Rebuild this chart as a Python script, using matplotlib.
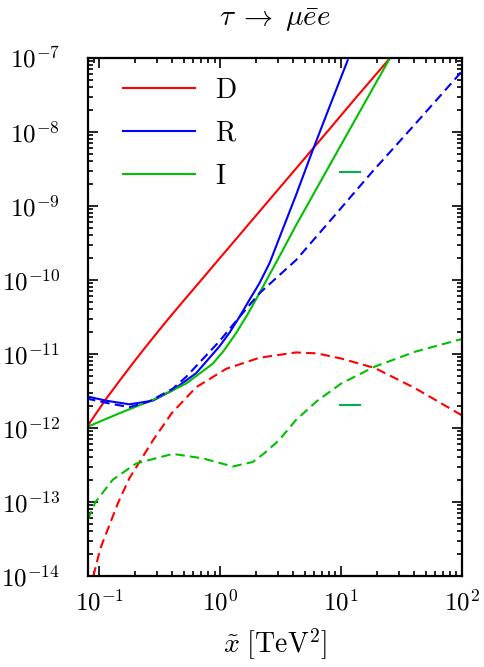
import numpy as np
import matplotlib
matplotlib.use('Agg')
import matplotlib.pyplot as plt

plt.rcParams['font.family'] = 'serif'
plt.rcParams['font.serif'] = ['cmr10']
plt.rcParams['mathtext.fontset'] = 'cm'
plt.rcParams['axes.formatter.use_mathtext'] = True

# values (x in TeV^2)
x_D = [0.0782, 0.1148, 0.15, 0.1995, 0.27, 0.3715, 0.5, 0.692, 1.259, 2.29, 4.17, 7.5, 13.5, 24.5]
y_D = [1.0e-12, 2.5e-12, 4.5e-12, 8.3e-12, 1.55e-11, 2.95e-11, 5.25e-11, 9.8e-11, 3.1e-10,
       9.8e-10, 3.1e-9, 9.6e-9, 3.0e-8, 9.3e-8]

x_R = [0.0782, 0.1143, 0.178, 0.278, 0.406, 0.634, 0.986, 1.2, 1.445, 1.75, 2.113, 2.57, 3.09,
       4.25, 5.73, 8.04, 11.35]
y_R = [2.69e-12, 2.34e-12, 2.09e-12, 2.34e-12, 3.24e-12, 5.5e-12, 1.26e-11, 1.95e-11, 3.16e-11,
       5.4e-11, 9.0e-11, 1.7e-10, 3.7e-10, 1.41e-9, 5.25e-9, 2.2e-8, 9.3e-8]

x_I = [0.0782, 0.147, 0.278, 0.524, 0.871, 1.07, 1.355, 1.7, 2.113, 3.09, 4.25, 8.37, 14.45, 25.4]
y_I = [1.02e-12, 1.58e-12, 2.4e-12, 3.98e-12, 7.4e-12, 1.1e-11, 1.91e-11, 3.5e-11, 6.6e-11,
       2.07e-10, 5.5e-10, 3.98e-9, 1.95e-8, 1.0e-7]

x_Rd = [0.0782, 0.1143, 0.178, 0.2606, 0.406, 0.524, 0.986, 1.445, 2.113, 4.25, 8.71, 17.95,
        41.7, 96.2, 100]
y_Rd = [2.51e-12, 2.19e-12, 1.91e-12, 2.29e-12, 3.39e-12, 4.9e-12, 1.48e-11, 3.16e-11, 6.6e-11,
        1.86e-10, 7.2e-10, 2.85e-9, 1.32e-8, 6.17e-8, 6.9e-8]

x_Dd = [0.0871, 0.0897, 0.1023, 0.1445, 0.178, 0.278, 0.398, 0.634, 1.122, 2.113, 4.25, 6.31,
        10, 19.05, 40.7, 93.3, 100]
y_Dd = [6.3e-15, 1.0e-14, 2.34e-14, 1.0e-13, 2.09e-13, 6.76e-13, 1.58e-12, 3.55e-12, 6.3e-12,
        8.9e-12, 1.05e-11, 1.02e-11, 8.7e-12, 6.46e-12, 3.47e-12, 1.58e-12, 1.48e-12]

x_Id = [0.0807, 0.0933, 0.1297, 0.2023, 0.406, 0.7194, 1.274, 1.862, 2.3, 3.09, 4.25, 6.3, 10,
        19.05, 40.7, 93.3, 100]
y_Id = [5.75e-14, 1.0e-13, 2.0e-13, 3.31e-13, 4.47e-13, 3.89e-13, 3.02e-13, 3.47e-13, 4.5e-13,
        6.9e-13, 1.29e-12, 2.3e-12, 3.98e-12, 6.76e-12, 1.07e-11, 1.55e-11, 1.58e-11]

# the two small marks near x = 10
x_mark = [9.8, 14.4]
y_mark1 = [2.85e-9, 2.85e-9]
y_mark2 = [2.04e-12, 2.04e-12]

red = '#ff0000'
blue = '#0000ff'
green = '#00c000'
dash = (0, (4.5, 2.5))

fig = plt.figure(figsize=(4.84, 6.67), dpi=100)
ax = fig.add_axes([88/484, 1 - 576/667, (462 - 88)/484, (576 - 58)/667])

lw = 1.5
ax.plot(x_D, y_D, color=red, lw=lw, label=r'$\mathrm{D}$')
ax.plot(x_R, y_R, color=blue, lw=lw, label=r'$\mathrm{R}$')
ax.plot(x_I, y_I, color=green, lw=lw, label=r'$\mathrm{I}$')
ax.plot(x_Rd, y_Rd, color=blue, lw=lw, ls=dash)
ax.plot(x_Dd, y_Dd, color=red, lw=lw, ls=dash)
ax.plot(x_Id, y_Id, color=green, lw=lw, ls=dash)
ax.plot(x_mark, y_mark1, color='#00b050', lw=lw)
ax.plot(x_mark, y_mark2, color='#00b050', lw=lw)

ax.set_xscale('log')
ax.set_yscale('log')
ax.set_xlim(0.081, 100)
ax.set_ylim(1e-14, 1e-7)

ax.tick_params(which='both', direction='in', top=True, right=True, labelsize=18, width=1.2)
ax.tick_params(which='major', length=7, pad=10)
ax.tick_params(which='minor', length=3.5)
ax.tick_params(axis='y', pad=20)
for s in ax.spines.values():
    s.set_linewidth(1.6)

ax.set_title(r'$\tau\;\to\;\mu \bar{e} e$', fontsize=21, pad=23)
ax.set_xlabel(r'$\tilde{x}\ [\mathrm{TeV}^2]$', fontsize=20, labelpad=8)

ax.legend(loc='upper left', frameon=False, fontsize=20, handlelength=2.6,
          handletextpad=0.72, labelspacing=0.6, borderaxespad=0.3, bbox_to_anchor=(0.042, 1.0))

fig.savefig('out.png', dpi=100)
